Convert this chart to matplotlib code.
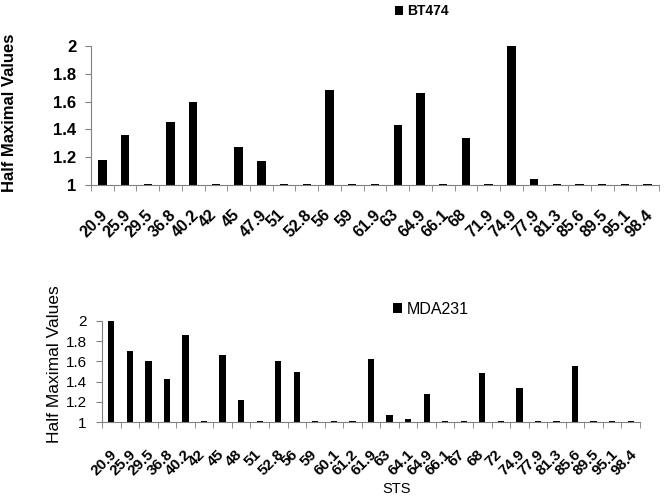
import numpy as np
import matplotlib
matplotlib.use('Agg')
import matplotlib.pyplot as plt
import matplotlib.transforms as mtransforms

plt.rcParams['font.family'] = ['Liberation Sans', 'DejaVu Sans']

# ── data ──
bt_sts = ['20.9', '25.9', '29.5', '36.8', '40.2', '42', '45', '47.9', '51', '52.8',
          '56', '59', '61.9', '63', '64.9', '66.1', '68', '71.9', '74.9', '77.9',
          '81.3', '85.6', '89.5', '95.1', '98.4']
bt_vals = [1.18, 1.36, 1.006, 1.45, 1.595, 1.006, 1.27, 1.17, 1.006, 1.006,
           1.68, 1.006, 1.006, 1.43, 1.66, 1.006, 1.34, 1.006, 2.0, 1.04,
           1.006, 1.006, 1.006, 1.006, 1.006]

mda_sts = ['20.9', '25.9', '29.5', '36.8', '40.2', '42', '45', '48', '51', '52.8',
           '56', '59', '60.1', '61.2', '61.9', '63', '64.1', '64.9', '66.1', '67',
           '68', '72', '74.9', '77.9', '81.3', '85.6', '89.5', '95.1', '98.4']
mda_vals = [2.0, 1.70, 1.60, 1.43, 1.86, 1.006, 1.66, 1.215, 1.006, 1.60,
            1.50, 1.006, 1.006, 1.006, 1.62, 1.065, 1.025, 1.28, 1.006, 1.006,
            1.49, 1.006, 1.335, 1.012, 1.006, 1.55, 1.006, 1.006, 1.006]

yticks = [1, 1.2, 1.4, 1.6, 1.8, 2]
ytick_labels = ['1', '1.2', '1.4', '1.6', '1.8', '2']

W, H = 665, 500
fig = plt.figure(figsize=(6.65, 5.0), dpi=100, facecolor='white')
GRAY = '#808080'


def panel(rect, cats, vals, width, lab_size, lab_weight, ypad, xpad, dx, ytick_size, ytick_weight):
    ax = fig.add_axes(rect)
    x = np.arange(len(cats))
    ax.bar(x, np.array(vals) - 1, bottom=1, width=width, color='black')
    ax.set_xlim(-0.5, len(cats) - 0.5)
    ax.set_ylim(1, 2)
    ax.set_yticks(yticks)
    ax.set_yticklabels(ytick_labels, fontsize=ytick_size, fontweight=ytick_weight)
    ax.set_xticks(x)
    ax.set_xticklabels(cats, rotation=45, ha='center', va='top',
                       fontsize=lab_size, fontweight=lab_weight)
    ax.set_xticks(np.arange(len(cats) + 1) - 0.5, minor=True)
    ax.tick_params(axis='x', which='major', length=0, pad=xpad)
    ax.tick_params(axis='x', which='minor', length=4, color=GRAY, direction='out')
    ax.tick_params(axis='y', length=4, color=GRAY, direction='out', pad=ypad)
    offset = mtransforms.ScaledTranslation(dx / 100.0, 0, fig.dpi_scale_trans)
    for lab in ax.get_xticklabels():
        lab.set_transform(lab.get_transform() + offset)
    for s in ['top', 'right']:
        ax.spines[s].set_visible(False)
    for s in ['left', 'bottom']:
        ax.spines[s].set_color(GRAY)
        ax.spines[s].set_linewidth(0.8)
    return ax


# top panel (BT474): axis x 91..659, y 46..185
ax1 = panel([91 / W, 1 - 185 / H, (659 - 91) / W, (185 - 46) / H],
            bt_sts, bt_vals, 0.37, 11.5, 'bold', 6.5, 16, -8, 12, 'bold')
# bottom panel (MDA231): axis x 102..640, y 321..422
ax2 = panel([102 / W, 1 - 422 / H, (640 - 102) / W, (422 - 321) / H],
            mda_sts, mda_vals, 0.34, 11, 'bold', 7, 18, -7, 11, 'normal')

fig.text(10 / W, 1 - 113 / H, 'Half Maximal Values', rotation=90, ha='center', va='center',
         fontsize=12, fontweight='bold')
fig.text(55 / W, 1 - 364 / H, 'Half Maximal Values', rotation=90, ha='center', va='center',
         fontsize=12.5)
fig.text(397 / W, 1 - 489 / H, 'STS', ha='center', va='center', fontsize=10.5)

ax1.legend(['BT474'], loc='center left', bbox_to_anchor=(395 / W, 1 - 11 / H),
           bbox_transform=fig.transFigure, frameon=False, handlelength=0.6,
           handleheight=0.6, handletextpad=0.3, borderpad=0, borderaxespad=0,
           prop={'size': 10, 'weight': 'bold'})
ax2.legend(['MDA231'], loc='center left', bbox_to_anchor=(393 / W, 1 - 309 / H),
           bbox_transform=fig.transFigure, frameon=False, handlelength=0.55,
           handleheight=0.55, handletextpad=0.3, borderpad=0, borderaxespad=0,
           prop={'size': 11.5})

fig.savefig('out.png', dpi=100, facecolor='white')
